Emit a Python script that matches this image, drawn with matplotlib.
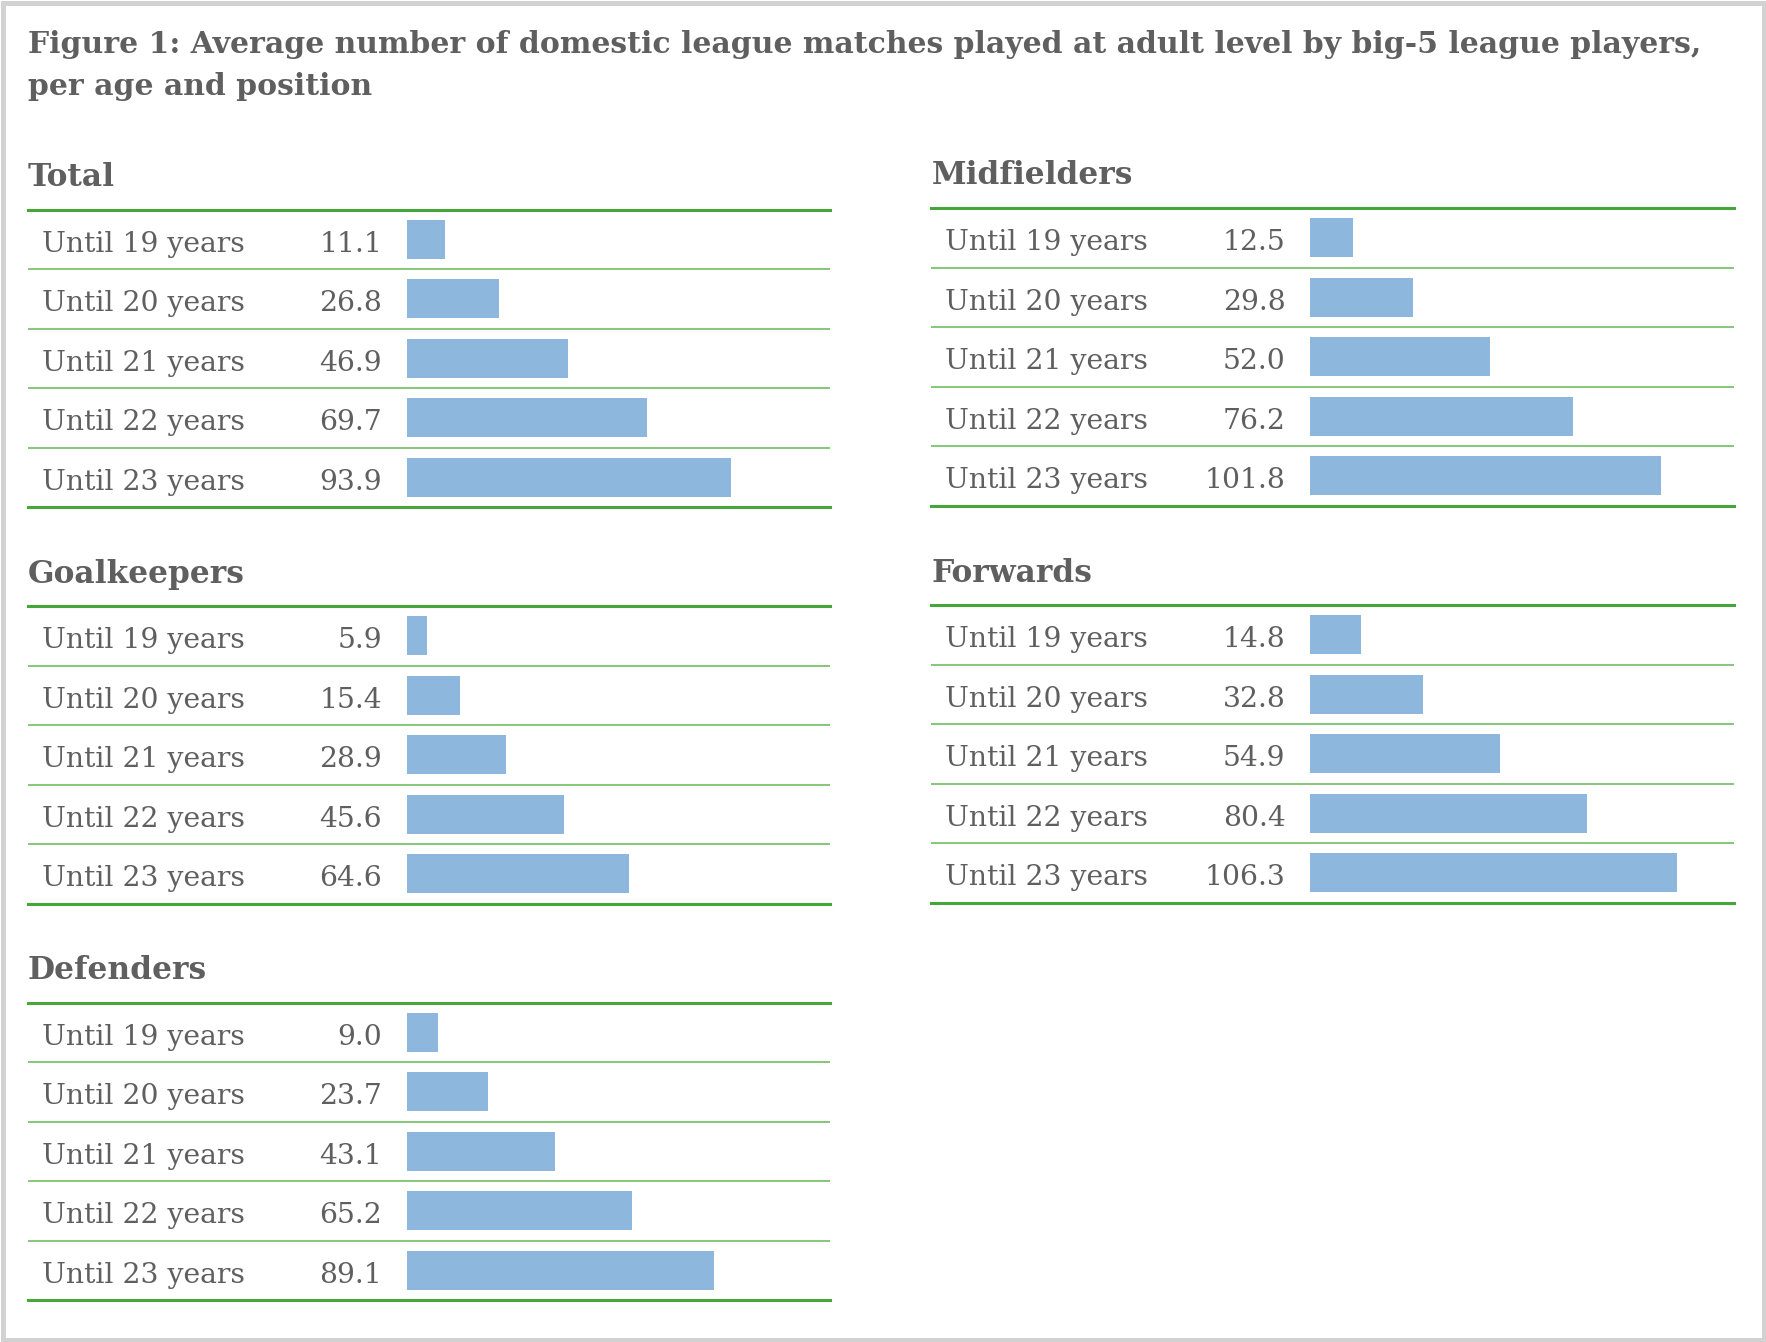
import matplotlib.pyplot as plt
from matplotlib.patches import Rectangle
from matplotlib.transforms import blended_transform_factory

W, H = 1766, 1342

ages = ["Until 19 years", "Until 20 years", "Until 21 years",
        "Until 22 years", "Until 23 years"]
total = [11.1, 26.8, 46.9, 69.7, 93.9]
goalkeepers = [5.9, 15.4, 28.9, 45.6, 64.6]
defenders = [9.0, 23.7, 43.1, 65.2, 89.1]
midfielders = [12.5, 29.8, 52.0, 76.2, 101.8]
forwards = [14.8, 32.8, 54.9, 80.4, 106.3]

title = ("Figure 1: Average number of domestic league matches played at adult level by big-5 league players,\n"
         "per age and position")

TXT = "#5f5f5f"
GREEN = "#45a63a"
GREEN_THIN = "#6fbd63"
BAR = "#8db7dd"

plt.rcParams["font.family"] = ["DejaVu Serif"]

# pixel layout of one table
PW = 802          # table width
ROW = 59.5        # row height
BAR0 = 378.6      # where bars start, from table left
PX = 3.45         # pixels per match


def panel(fig, name, values, x0, top):
    h = ROW * len(values)
    ax = fig.add_axes([x0 / W, 1 - (top + h) / H, PW / W, h / H])
    ax.set_xlim(-BAR0 / PX, (PW - BAR0) / PX)
    ax.set_ylim(len(values), 0)
    ax.axis("off")
    ys = [i + 0.5 for i in range(len(values))]
    ax.barh(ys, values, height=0.65, color=BAR, edgecolor="none")
    ax.axhline(0, color=GREEN, lw=2.2, clip_on=False)
    ax.axhline(len(values), color=GREEN, lw=2.2, clip_on=False)
    for i in range(1, len(values)):
        ax.axhline(i, color=GREEN_THIN, lw=1.2)
    tr = blended_transform_factory(ax.transAxes, ax.transData)
    for i, (lab, v) in enumerate(zip(ages, values)):
        ax.text(14 / PW, i + 0.71, lab, transform=tr, ha="left",
                va="baseline", fontsize=20.3, color=TXT)
        ax.text(354 / PW, i + 0.71, f"{v:.1f}", transform=tr, ha="right",
                va="baseline", fontsize=20.3, color=TXT)
    ax.text(0, 1 + 23.5 / h, name, transform=ax.transAxes, ha="left",
            va="baseline", fontsize=22.5, fontweight="bold", color=TXT)


fig = plt.figure(figsize=(W / 100, H / 100), dpi=100)
fig.patches.append(Rectangle((2.5 / W, 2.5 / H), 1 - 5 / W, 1 - 5 / H,
                             transform=fig.transFigure, fill=False,
                             edgecolor="#d2d2d2", lw=3.6))

fig.text(28 / W, 1 - 53 / H, title.split("\n")[0], ha="left", va="baseline",
         fontsize=21.5, fontweight="bold", color=TXT)
fig.text(28 / W, 1 - 95 / H, title.split("\n")[1], ha="left", va="baseline",
         fontsize=21.5, fontweight="bold", color=TXT)

panel(fig, "Total", total, 28, 209.5)
panel(fig, "Goalkeepers", goalkeepers, 28, 606)
panel(fig, "Defenders", defenders, 28, 1002.5)
panel(fig, "Midfielders", midfielders, 931.5, 208)
panel(fig, "Forwards", forwards, 931.5, 605)

fig.savefig("out.png", dpi=100)
